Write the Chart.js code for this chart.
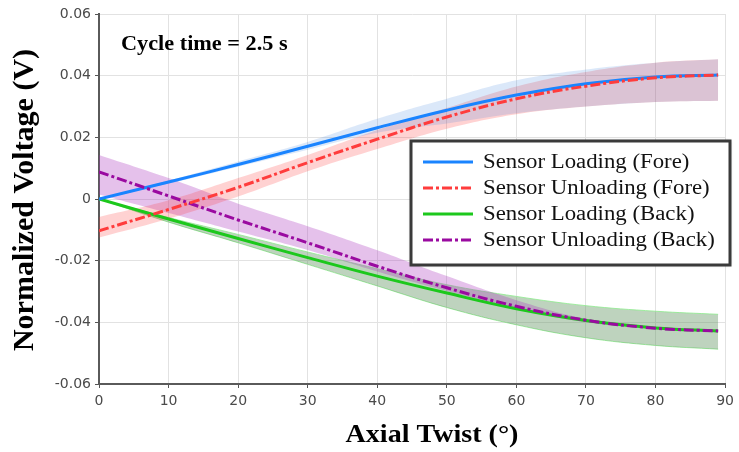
<!DOCTYPE html>
<html>
<head>
<meta charset="utf-8">
<script src="https://cdn.jsdelivr.net/npm/chart.js@4.4.1/dist/chart.umd.min.js"></script>
<style>
  html, body { margin: 0; padding: 0; background: #fff; }
  canvas { display: block; }
</style>
</head>
<body>
<canvas id="chart" width="739" height="452"></canvas>
<script>
// Axial twist angle (degrees)
const twist = [0, 10, 20, 30, 40, 50, 60, 70, 80, 89];

// Mean normalized voltage (V)
const loadFore   = [0, 0.0055, 0.0112, 0.0171, 0.0231, 0.0288, 0.0337, 0.0374, 0.0396, 0.0402];
const unloadFore = [-0.0103, -0.0034, 0.0038, 0.0118, 0.0194, 0.0266, 0.0325, 0.0366, 0.0393, 0.0402];
const loadBack   = [0, -0.0065, -0.0128, -0.0190, -0.0250, -0.0305, -0.0356, -0.0394, -0.0418, -0.0428];
const unloadBack = [0.0088, 0.0010, -0.0068, -0.0142, -0.0218, -0.0288, -0.0348, -0.0393, -0.0419, -0.0428];

// Spread bands (upper / lower bounds)
const loadForeHi   = [0, 0.0060, 0.0122, 0.0185, 0.0260, 0.0325, 0.0385, 0.0420, 0.0442, 0.0453];
const loadForeLo   = [0, 0.0050, 0.0105, 0.0160, 0.0215, 0.0245, 0.0278, 0.0300, 0.0315, 0.0319];
const unloadForeHi = [-0.0058, -0.0004, 0.0068, 0.0143, 0.0224, 0.0295, 0.0365, 0.0412, 0.0442, 0.0453];
const unloadForeLo = [-0.0125, -0.0064, 0.0008, 0.0090, 0.0162, 0.0228, 0.0275, 0.0300, 0.0315, 0.0319];
const loadBackHi   = [0, -0.0060, -0.0115, -0.0172, -0.0226, -0.0278, -0.0316, -0.0346, -0.0364, -0.0374];
const loadBackLo   = [0, -0.0075, -0.0142, -0.0212, -0.0282, -0.0352, -0.0408, -0.0450, -0.0475, -0.0487];
const unloadBackHi = [0.0143, 0.0068, -0.0015, -0.0088, -0.0166, -0.0250, -0.0328, -0.0388, -0.0415, -0.0425];
const unloadBackLo = [0.0015, -0.0045, -0.0105, -0.0165, -0.0235, -0.0298, -0.0355, -0.0400, -0.0421, -0.0430];

// Axis ticks
const xTickValues = [0, 10, 20, 30, 40, 50, 60, 70, 80, 90];
const xTickLabels = ['0', '10', '20', '30', '40', '50', '60', '70', '80', '90'];
const yTickValues = [-0.06, -0.04, -0.02, 0, 0.02, 0.04, 0.06];
const yTickLabels = ['-0.06', '-0.04', '-0.02', '0', '0.02', '0.04', '0.06'];

const seriesNames = ['Sensor Loading (Fore)', 'Sensor Unloading (Fore)', 'Sensor Loading (Back)', 'Sensor Unloading (Back)'];
const xTitle = 'Axial Twist (\u00b0)';
const yTitle = 'Normalized Voltage (V)';
const note = 'Cycle time = 2.5 s';

const pts = ys => twist.map((x, i) => ({ x, y: ys[i] }));
const labelFor = (values, labels) => v => {
  const i = values.findIndex(t => Math.abs(t - v) < 1e-9);
  return i >= 0 ? labels[i] : '';
};

const lineStyle = (label, ys, color, dash, order) => ({
  label, data: pts(ys), borderColor: color, backgroundColor: color,
  borderWidth: 3, borderDash: dash, pointRadius: 0, fill: false,
  tension: 0.4, order
});
const bandEdge = (ys, fill, color, edge, order) => ({
  data: pts(ys), fill, backgroundColor: color,
  borderColor: edge || 'transparent', borderWidth: edge ? 1 : 0,
  pointRadius: 0, tension: 0.4, order
});

const datasets = [
  lineStyle(seriesNames[0], loadFore,   '#1a84ff', [], 2),
  lineStyle(seriesNames[1], unloadFore, '#ff3c3c', [10, 3, 3, 3], 0),
  lineStyle(seriesNames[2], loadBack,   '#1cc81c', [], 3),
  lineStyle(seriesNames[3], unloadBack, '#9a0aa0', [10, 3, 3, 3], 1),
  bandEdge(loadForeHi,   '+1', 'rgba(40,120,220,0.17)', null, 17),
  bandEdge(loadForeLo,   false, 'transparent', null, 17),
  bandEdge(unloadForeHi, '+1', 'rgba(255,50,50,0.22)', null, 18),
  bandEdge(unloadForeLo, false, 'transparent', null, 18),
  bandEdge(loadBackHi,   '+1', 'rgba(100,150,100,0.42)', 'rgba(140,235,140,0.8)', 20),
  bandEdge(loadBackLo,   false, 'transparent', 'rgba(140,235,140,0.8)', 20),
  bandEdge(unloadBackHi, '+1', 'rgba(170,50,190,0.3)', null, 19),
  bandEdge(unloadBackLo, false, 'transparent', null, 19)
];

const serif = '"Liberation Serif", "Times New Roman", serif';

// Text drawn onto the canvas: axis titles, the cycle-time note and the framed legend
const decorations = {
  id: 'decorations',
  afterDraw(chart) {
    const { ctx, chartArea } = chart;
    ctx.save();
    ctx.fillStyle = '#000';

    // note
    ctx.font = 'bold 21px ' + serif;
    ctx.textAlign = 'left';
    ctx.textBaseline = 'alphabetic';
    ctx.save();
    ctx.translate(121, 50);
    ctx.scale(1.06, 1);
    ctx.fillText(note, 0, 0);
    ctx.restore();

    // x title
    ctx.font = 'bold 26px ' + serif;
    ctx.textAlign = 'center';
    ctx.save();
    ctx.translate(432, 442);
    ctx.scale(1.08, 1);
    ctx.fillText(xTitle, 0, 0);
    ctx.restore();

    // y title
    ctx.font = 'bold 30px ' + serif;
    ctx.save();
    ctx.translate(33, (chartArea.top + chartArea.bottom) / 2 + 1);
    ctx.rotate(-Math.PI / 2);
    ctx.fillText(yTitle, 0, 0);
    ctx.restore();

    // legend frame
    const box = { x: 411, y: 141, w: 319, h: 124 };
    ctx.save();
    ctx.shadowColor = 'rgba(0,0,0,0.4)';
    ctx.shadowBlur = 3;
    ctx.fillStyle = '#fff';
    ctx.fillRect(box.x, box.y, box.w, box.h);
    ctx.restore();
    ctx.strokeStyle = '#3a3a3a';
    ctx.lineWidth = 3;
    ctx.strokeRect(box.x, box.y, box.w, box.h);

    const items = chart.data.datasets.filter(d => d.label);
    ctx.font = '20px ' + serif;
    ctx.textAlign = 'left';
    ctx.textBaseline = 'middle';
    items.forEach((d, i) => {
      const y = 162 + i * 26;
      ctx.save();
      ctx.strokeStyle = d.borderColor;
      ctx.lineWidth = 3;
      ctx.setLineDash(d.borderDash || []);
      ctx.beginPath();
      ctx.moveTo(423, y);
      ctx.lineTo(473, y);
      ctx.stroke();
      ctx.restore();
      ctx.save();
      ctx.translate(483, y + 1);
      ctx.scale(1.14, 1);
      ctx.fillStyle = '#111';
      ctx.fillText(d.label, 0, 0);
      ctx.restore();
    });
    ctx.restore();
  }
};

const tickFont = { family: '"DejaVu Sans", Verdana, sans-serif', size: 14 };

new Chart(document.getElementById('chart'), {
  type: 'line',
  data: { datasets },
  options: {
    responsive: false,
    devicePixelRatio: 1,
    animation: false,
    layout: { padding: { left: 0, right: 13, top: 14, bottom: 0 } },
    plugins: {
      legend: { display: false },
      tooltip: { enabled: false },
      filler: { propagate: false }
    },
    scales: {
      x: {
        type: 'linear', min: 0, max: 90,
        afterBuildTicks: s => { s.ticks = xTickValues.map(v => ({ value: v })); },
        afterFit: s => { s.height = 68; },
        ticks: { callback: labelFor(xTickValues, xTickLabels), font: tickFont, color: '#4a4a4a', padding: 5, maxRotation: 0 },
        grid: { color: '#e2e2e2', lineWidth: 1, tickLength: 4, tickColor: '#555' },
        border: { display: true, color: '#5a5a5a', width: 2 }
      },
      y: {
        type: 'linear', min: -0.06, max: 0.06,
        afterBuildTicks: s => { s.ticks = yTickValues.map(v => ({ value: v })); },
        afterFit: s => { s.width = 99; },
        ticks: { callback: labelFor(yTickValues, yTickLabels), font: tickFont, color: '#4a4a4a', padding: 4 },
        grid: { color: '#e2e2e2', lineWidth: 1, tickLength: 4, tickColor: '#555' },
        border: { display: true, color: '#5a5a5a', width: 2 }
      }
    }
  },
  plugins: [decorations]
});
</script>
</body>
</html>
